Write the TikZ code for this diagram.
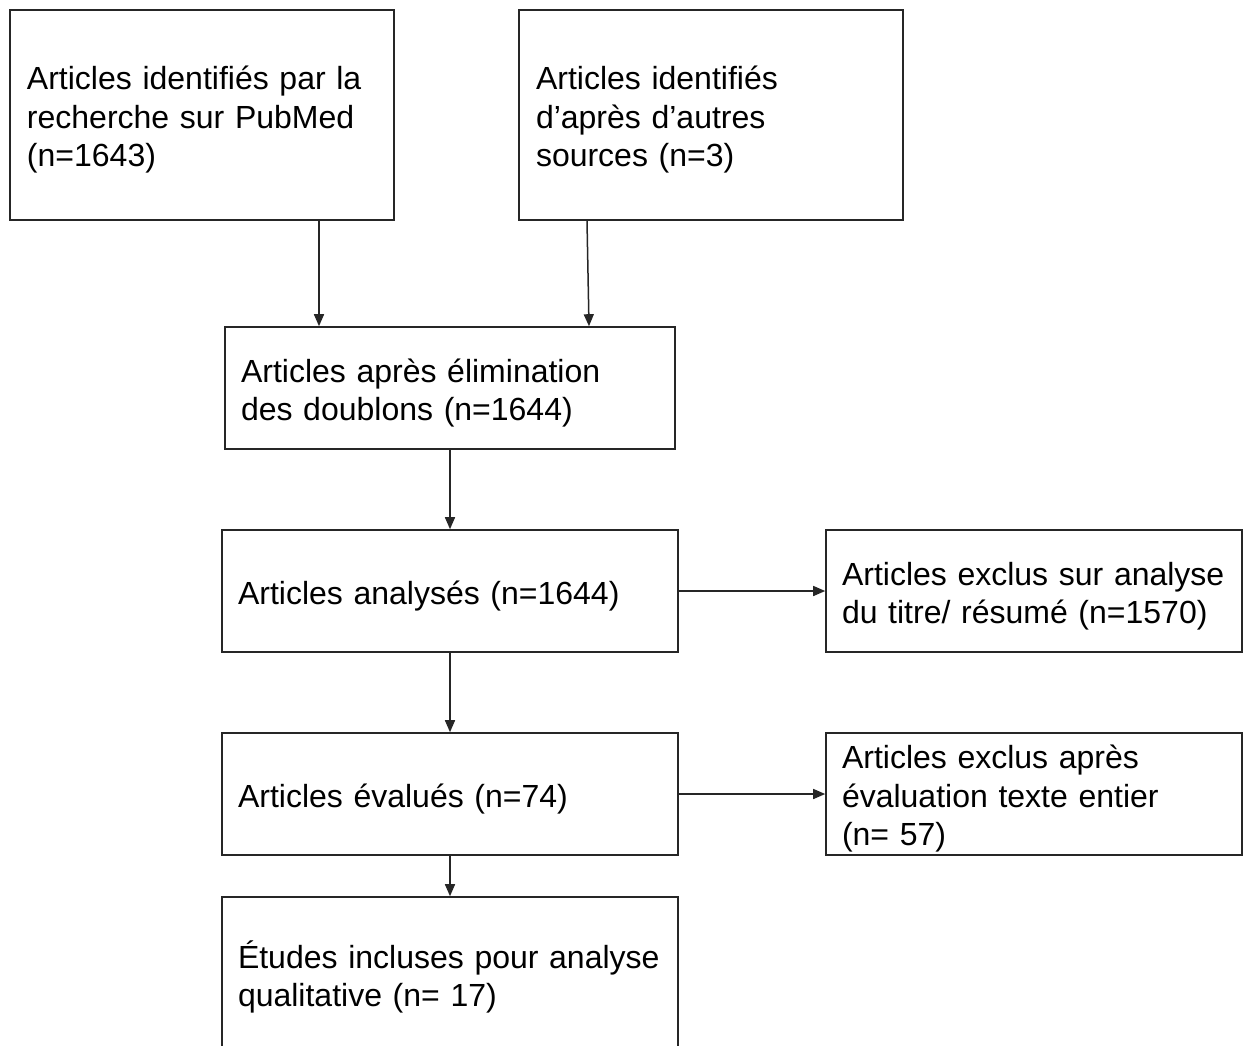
\documentclass[tikz,border=0pt]{standalone}
\usepackage{fontspec}
\setmainfont{Liberation Sans}
\usetikzlibrary{arrows.meta}
\tikzset{
  box/.style={draw=black!85, line width=1.6pt, rectangle, inner sep=0pt},
  lbl/.style={inner sep=0pt, align=left, font=\fontsize{32}{38.5}\selectfont, text=black},
  arr/.style={draw=black!85, line width=1.5pt, -{Triangle[length=12pt,width=10pt]}}
}
\begin{document}
\begin{tikzpicture}[x=1pt,y=-1pt]
\useasboundingbox (0,0) rectangle (1245,1045);
\node[box, minimum width=384pt, minimum height=210pt] (A) at (202,115) {};
\node[box, minimum width=384pt, minimum height=210pt] (B) at (711,115) {};
\node[box, minimum width=450pt, minimum height=122pt] (C) at (450,388) {};
\node[box, minimum width=456pt, minimum height=122pt] (D) at (450,591) {};
\node[box, minimum width=416pt, minimum height=122pt] (E) at (1034,591) {};
\node[box, minimum width=456pt, minimum height=122pt] (F) at (450,794) {};
\node[box, minimum width=416pt, minimum height=122pt] (G) at (1034,794) {};
\node[box, minimum width=456pt, minimum height=158pt] (H) at (450,976) {};
\node[lbl, text width=350pt, yshift=-5pt] (At) at (A) {Articles identifiés par la\\recherche sur PubMed\\(n=1643)};
\node[lbl, text width=350pt, yshift=-5pt] (Bt) at (B) {Articles identifiés\\d’après d’autres\\sources (n=3)};
\node[lbl, text width=418pt, yshift=-5pt] (Ct) at (C) {Articles après élimination\\des doublons (n=1644)};
\node[lbl, text width=424pt, yshift=-5pt] (Dt) at (D) {Articles analysés (n=1644)};
\node[lbl, text width=384pt, yshift=-5pt] (Et) at (E) {Articles exclus sur analyse\\du titre/ résumé (n=1570)};
\node[lbl, text width=424pt, yshift=-5pt] (Ft) at (F) {Articles évalués (n=74)};
\node[lbl, text width=384pt, yshift=-5pt] (Gt) at (G) {Articles exclus après\\évaluation texte entier\\(n= 57)};
\node[lbl, text width=424pt, yshift=-1pt] (Ht) at (H) {Études incluses pour analyse\\qualitative (n= 17)};
\draw[arr] ([xshift=117pt]A.south) -- ([xshift=117pt]A.south |- C.north);
\draw[arr] ([xshift=-124pt]B.south) -- ([xshift=139pt]C.north);
\draw[arr] (C.south) -- (D.north);
\draw[arr] (D.east) -- (E.west);
\draw[arr] (D.south) -- (F.north);
\draw[arr] (F.east) -- (G.west);
\draw[arr] (F.south) -- (H.north);
\end{tikzpicture}
\end{document}
